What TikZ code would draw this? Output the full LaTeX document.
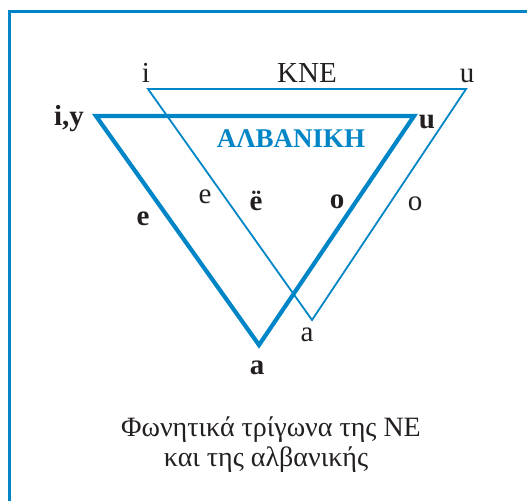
\documentclass[tikz,border=0pt]{standalone}
\usepackage{fontspec}
\setmainfont{Liberation Serif}
\definecolor{fblue}{RGB}{0,133,199}
\definecolor{ink}{RGB}{35,31,32}
\begin{document}
\begin{tikzpicture}[x=1pt,y=-1pt,
  lbl/.style={text=ink,font=\fontsize{29}{31}\selectfont,inner sep=0pt,anchor=base},
  blbl/.style={lbl,font=\fontsize{29}{31}\selectfont\bfseries},
  captxt/.style={lbl,font=\fontsize{28}{30}\selectfont},
  thin/.style={draw=fblue,line width=1.8pt,line join=miter},
  thick/.style={draw=fblue,line width=4.2pt,line join=miter}]
\useasboundingbox (0,0) rectangle (527,501);
% frame
\coordinate (fb) at (9,501);
\coordinate (fc) at (9,11);
\coordinate (fr) at (527,11);
\draw[fblue,line width=3pt] (fb) -- (fc) -- (fr);
% thin triangle (KNE)
\coordinate (ti) at (148,89);
\coordinate (tu) at (466,89);
\coordinate (ta) at (312,320);
\draw[thin] (ti) -- (tu) -- (ta) -- cycle;
% thick triangle (Albanian)
\coordinate (bi) at (96,116);
\coordinate (bu) at (414,116);
\coordinate (ba) at (259,345);
\draw[thick] (bi) -- (bu) -- (ba) -- cycle;
% labels thin
\node[lbl] (li) at (146,82) {i};
\node[lbl] (lk) at (307,82) {KNE};
\node[lbl] (lu) at (467,82) {u};
\node[lbl] (le) at (205,203) {e};
\node[lbl] (lo) at (415,210) {o};
\node[lbl] (la) at (307,341) {a};
% labels bold
\node[blbl] (biy) at (69,125) {i,y};
\node[blbl] (bul) at (427,128) {u};
\node[blbl,text=fblue,font=\fontsize{27}{29}\selectfont\bfseries] (alb) at (291,147) {ΑΛΒΑΝΙΚΗ};
\node[blbl] (bee) at (256,210) {ë};
\node[blbl] (bo) at (337,208) {o};
\node[blbl] (be) at (143,225) {e};
\node[blbl] (ba2) at (257,374) {a};
% caption
\node[captxt] (c1) at (271,436) {Φωνητικά τρίγωνα της ΝΕ};
\node[captxt] (c2) at (266,466) {και της αλβανικής};
\end{tikzpicture}
\end{document}
